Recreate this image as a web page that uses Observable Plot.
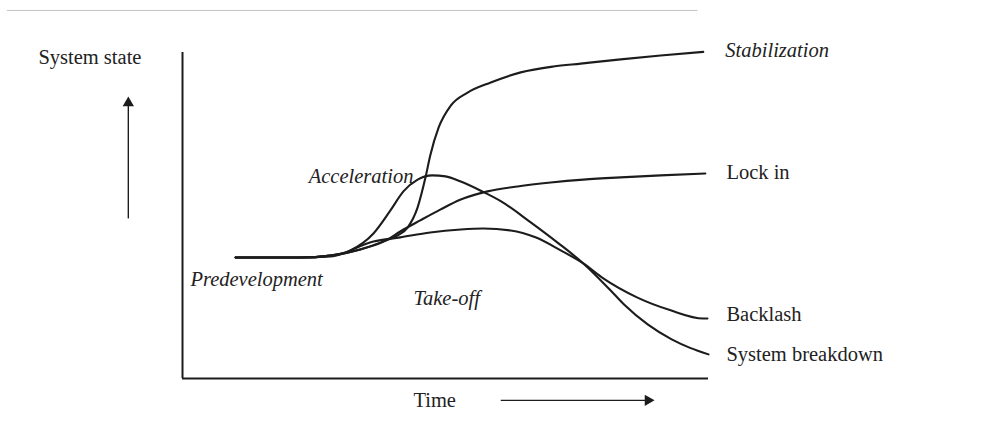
<!DOCTYPE html>
<html>
<head>
<meta charset="utf-8">
<script src="https://cdn.jsdelivr.net/npm/d3@7"></script>
<script src="https://cdn.jsdelivr.net/npm/@observablehq/plot@0.6"></script>
<style>
  html, body { margin: 0; padding: 0; background: #fff; }
  #chart svg { display: block; }
</style>
</head>
<body>
<div id="chart"></div>
<script>
// Time (0-100 along the axis) and system state (0-100 up the axis)
const stabilization = [
  [10.1,37.1],[22.4,37.1],[28.1,37.7],[33.8,39.6],[38.6,42.3],[40.9,43.9],[42.8,46.3],
  [44.7,52.5],[46.2,61.7],[47.1,68.4],[48.7,77.0],[51.0,83.7],[54.2,87.7],[58.6,90.8],
  [64.3,93.9],[70.5,95.7],[75.7,96.6],[83.3,97.9],[90.9,99.1],[99.0,100.2]
];
const lockIn = [
  [10.1,37.1],[22.4,37.1],[28.1,37.7],[33.8,39.6],[38.6,42.3],[41.4,45.1],[45.2,48.5],
  [49.0,51.8],[52.9,54.9],[58.0,57.4],[63.7,58.9],[70.0,60.1],[76.2,61.0],[83.3,61.7],
  [90.9,62.3],[99.4,62.9]
];
const breakdown = [
  [10.1,37.1],[22.4,37.1],[28.1,37.7],[31.9,39.3],[36.3,44.5],[39.5,51.5],[42.0,57.4],
  [44.7,61.0],[47.5,62.3],[50.0,62.0],[52.9,60.4],[56.7,57.6],[60.5,54.4],[66.2,47.9],
  [71.3,41.7],[76.2,35.3],[81.4,27.0],[84.0,22.6],[88.5,16.5],[93.0,12.0],[96.5,9.4],[100.0,7.4]
];
const backlash = [
  [10.1,37.1],[22.4,37.1],[28.1,37.4],[36.3,42.0],[41.4,43.3],[47.1,44.8],[52.9,45.7],
  [57.2,46.0],[62.4,45.4],[67.1,43.3],[71.9,39.3],[76.2,35.3],[80.0,30.7],[86.5,24.8],
  [92.8,20.9],[99.0,18.4],[99.8,18.4]
];
const seriesNames = ["Stabilization", "Lock in", "System breakdown", "Backlash"];
const seriesValues = [stabilization, lockIn, breakdown, backlash];

// Labels: text, time, state, italic?
const labelTexts  = ["System state", "Predevelopment", "Acceleration", "Take-off", "Stabilization", "Lock in", "Backlash", "System breakdown", "Time"];
const labelTimes  = [-27.4, 1.5, 24.0, 43.9, 103.2, 103.4, 103.4, 103.4, 43.9];
const labelStates = [98.5, 30.4, 62.0, 24.5, 100.6, 63.2, 19.6, 7.4, -6.7];
const labelItalic = [false, true, true, true, true, false, false, false, false];

// Direction arrows
const timeArrow  = {t1: 60.5, t2: 88.5, s: -6.7};
const stateArrow = {t: -10.3, s1: 49.1, s2: 84.5};

const lines = seriesNames.flatMap((name, i) => seriesValues[i].map(([t, s]) => ({name, t, s})));
const labels = labelTexts.map((text, i) => ({text, t: labelTimes[i], s: labelStates[i], italic: labelItalic[i]}));

const ink = "#1c1c1c";
const font = "'Liberation Serif', 'Times New Roman', serif";

const chart = Plot.plot({
  width: 1007,
  height: 441,
  marginLeft: 182,
  marginRight: 299,
  marginTop: 52,
  marginBottom: 63,
  x: {domain: [0, 100], axis: null},
  y: {domain: [0, 100], axis: null},
  style: {background: "#fff"},
  marks: [
    // page rule at top of scan
    Plot.ruleY([112.9], {x1: -33.3, x2: 98, stroke: "#c4c4c4", strokeWidth: 1}),
    // axes
    Plot.ruleX([0], {y1: 0, y2: 100, stroke: ink, strokeWidth: 2}),
    Plot.ruleY([0], {x1: 0, x2: 100, stroke: ink, strokeWidth: 2}),
    // curves
    Plot.line(lines, {x: "t", y: "s", z: "name", curve: "monotone-x", stroke: ink, strokeWidth: 2.1}),
    // arrows
    Plot.link([timeArrow], {x1: "t1", x2: "t2", y1: "s", y2: "s", stroke: ink, strokeWidth: 1.4}),
    Plot.dot([timeArrow], {x: "t2", y: "s", symbol: "triangle", r: 4.2, fill: ink, stroke: "none", rotate: 90}),
    Plot.link([stateArrow], {x1: "t", x2: "t", y1: "s1", y2: "s2", stroke: ink, strokeWidth: 1.4}),
    Plot.dot([stateArrow], {x: "t", y: "s2", symbol: "triangle", r: 4.2, fill: ink, stroke: "none"}),
    // labels
    Plot.text(labels.filter(d => !d.italic), {x: "t", y: "s", text: "text", textAnchor: "start", fontFamily: font, fontSize: 20.5, fill: "#222"}),
    Plot.text(labels.filter(d => d.italic), {x: "t", y: "s", text: "text", textAnchor: "start", fontFamily: font, fontSize: 20.5, fontStyle: "italic", fill: "#222"})
  ]
});
document.getElementById("chart").appendChild(chart);
</script>
</body>
</html>
